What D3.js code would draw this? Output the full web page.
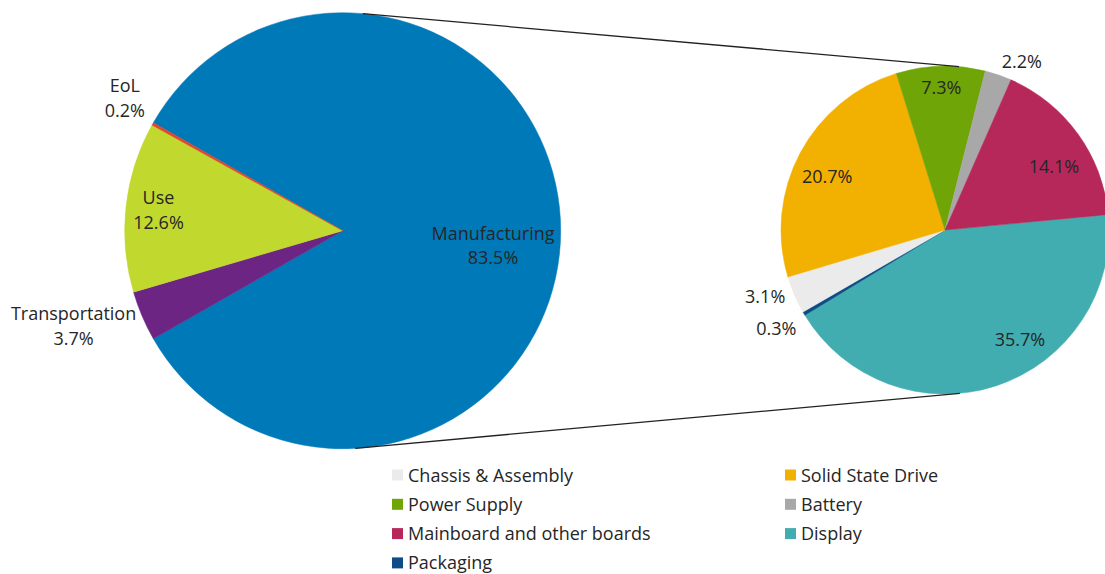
<!DOCTYPE html>
<html>
<head>
<meta charset="utf-8">
<script src="https://cdn.jsdelivr.net/npm/d3@7"></script>
<style>
  body { margin: 0; background: #fff; }
  svg { display: block; font-family: "Open Sans", "Noto Sans", sans-serif; }
</style>
</head>
<body>
<svg id="chart" width="1105" height="574"></svg>
<script>
// main pie: life cycle phases
const phases = ['Manufacturing', 'Transportation', 'Use', 'EoL']
const phaseValues = [83.5, 3.7, 12.6, 0.2]
const phaseColors = ['#0079b8', '#6d2584', '#c1d82f', '#e0452a']

// secondary pie: manufacturing break-down (share of total)
const parts = ['Display', 'Packaging', 'Chassis & Assembly', 'Solid State Drive', 'Power Supply', 'Battery', 'Mainboard and other boards']
const partValues = [35.7, 0.3, 3.1, 20.7, 7.3, 2.2, 14.1]
const partColors = ['#41adb0', '#0e4c85', '#ebebeb', '#f2b000', '#6fa506', '#a8a8a8', '#b7285a']

// legend order
const legendOrder = ['Chassis & Assembly', 'Solid State Drive', 'Power Supply', 'Battery', 'Mainboard and other boards', 'Display', 'Packaging']

const deg = Math.PI / 180
const svg = d3.select('#chart')
const fontSize = 18

// label placement: [radius factor, angle nudge in degrees]
const phaseLabelPos = [[0.693, 5.7], [1.31, 3.5], [0.85, 0], [1.17, 2]]
const partLabelPos = [[0.81, -16], [1.19, 0.5], [1.17, 2.9], [0.79, -3.5], [0.87, 0], [1.13, 5.5], [0.77, 5.5]]

const drawPie = (cx, cy, r, names, values, colors, startDeg, labelPos, showName) => {
  const g = svg.append('g').attr('transform', 'translate(' + cx + ',' + cy + ')')
  const pie = d3.pie().sort(null).value((d) => d)
    .startAngle(startDeg * deg).endAngle(startDeg * deg + 2 * Math.PI)
  const arcs = pie(values)
  const arc = d3.arc().innerRadius(0).outerRadius(r)

  g.selectAll('path.slice')
    .data(arcs)
    .enter()
    .append('path')
    .attr('class', 'slice')
    .attr('d', arc)
    .attr('fill', (d, i) => colors[i])
    .attr('stroke', (d, i) => colors[i])
    .attr('stroke-width', 0.5)

  arcs.forEach((d, i) => {
    const a = (d.startAngle + d.endAngle) / 2 + labelPos[i][1] * deg
    const lr = r * labelPos[i][0]
    const x = Math.sin(a) * lr
    const y = -Math.cos(a) * lr
    const t = g.append('text')
      .attr('text-anchor', 'middle')
      .attr('font-size', fontSize)
      .attr('fill', '#262626')
    const pct = d.data.toFixed(1) + '%'
    if (showName) {
      t.append('tspan').attr('x', x).attr('y', y - 6).text(names[i])
      t.append('tspan').attr('x', x).attr('y', y + 18.5).text(pct)
    } else {
      t.append('tspan').attr('x', x).attr('y', y + 6.5).text(pct)
    }
  })
  return { cx: cx, cy: cy, r: r }
}

// big pie: manufacturing slice centred on the right
const bigStart = 90 - (phaseValues[0] / d3.sum(phaseValues)) * 180
const big = drawPie(342.7, 230.7, 218, phases, phaseValues, phaseColors, bigStart, phaseLabelPos, true)
const small = drawPie(945, 230, 164, parts, partValues, partColors, 84.6, partLabelPos, false)

// connector lines between the two pies
const onCircle = (p, a) => [p.cx + Math.sin(a * deg) * p.r, p.cy - Math.cos(a * deg) * p.r]
const connectors = [[5.3, 4.9], [176.7, 174.8]]
connectors.forEach((c) => {
  const a = onCircle(big, c[0])
  const b = onCircle(small, c[1])
  svg.append('line')
    .attr('x1', a[0]).attr('y1', a[1])
    .attr('x2', b[0]).attr('y2', b[1])
    .attr('stroke', '#222')
    .attr('stroke-width', 1.3)
})

// legend, two columns
const colorOf = (name) => partColors[parts.indexOf(name)]
const legend = svg.append('g').attr('transform', 'translate(392,475)')
const item = legend.selectAll('g.item')
  .data(legendOrder)
  .enter()
  .append('g')
  .attr('class', 'item')
  .attr('transform', (d, i) => 'translate(' + (i % 2) * 393 + ',' + Math.floor(i / 2) * 29.3 + ')')

item.append('rect')
  .attr('x', 0).attr('y', -5.5)
  .attr('width', 11).attr('height', 11)
  .attr('fill', (d) => colorOf(d))

item.append('text')
  .attr('x', 16)
  .attr('y', 6.5)
  .attr('font-size', fontSize)
  .attr('fill', '#262626')
  .text((d) => d)
</script>
</body>
</html>
